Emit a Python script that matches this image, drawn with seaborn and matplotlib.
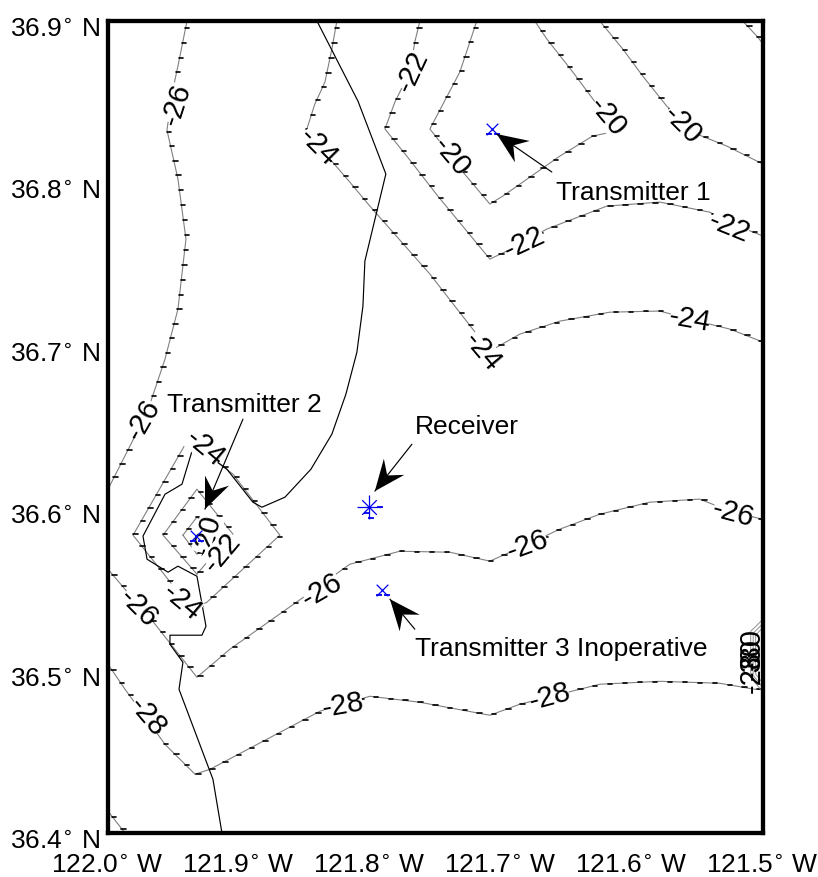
import matplotlib
matplotlib.use("Agg")
import matplotlib.pyplot as plt
import numpy as np
import seaborn as sns
from matplotlib.patches import Polygon
from matplotlib.path import Path
from matplotlib.patheffects import AbstractPathEffect, Normal
from matplotlib.transforms import Affine2D, IdentityTransform, ScaledTranslation

# Longitudes are degrees west, latitudes degrees north.
c26_west_lon = [121.9397, 121.9466, 121.9504, 121.9550, 121.9466, 121.9405, 121.9466, 121.9565, 121.9680, 121.9817, 121.9969, 122.0]
c26_west_lat = [36.9, 36.8723, 36.8581, 36.8329, 36.8027, 36.7657, 36.7226, 36.6918, 36.6641, 36.6407, 36.6166, 36.6117]
c24_north_lon = [121.8253, 121.8291, 121.8344, 121.8421, 121.8482, 121.8306, 121.8154, 121.8001, 121.7543, 121.7085, 121.6856, 121.6551, 121.6170, 121.5788, 121.5559, 121.5254, 121.5]
c24_north_lat = [36.9, 36.8828, 36.8624, 36.8489, 36.8335, 36.8150, 36.8008, 36.7860, 36.7442, 36.6967, 36.7072, 36.7152, 36.7207, 36.7214, 36.7164, 36.7103, 36.7023]
c22_north_lon = [121.7619, 121.7658, 121.7696, 121.7810, 121.7886, 121.7719, 121.7482, 121.7085, 121.6956, 121.6650, 121.6193, 121.5788, 121.5407, 121.5231, 121.5]
c22_north_lat = [36.9, 36.8871, 36.8686, 36.8501, 36.8335, 36.8168, 36.7922, 36.7534, 36.7583, 36.7719, 36.7860, 36.7885, 36.7823, 36.7750, 36.7676]
c20_north_lon = [121.7185, 121.7314, 121.7543, 121.7482, 121.7291, 121.7085, 121.6986, 121.6551, 121.6299, 121.6116, 121.6299, 121.6452, 121.6650, 121.6742]
c20_north_lat = [36.9, 36.8686, 36.8335, 36.8273, 36.8070, 36.7873, 36.7922, 36.8168, 36.8292, 36.8322, 36.8520, 36.8686, 36.8889, 36.9]
c20_east_lon = [121.6246, 121.6071, 121.5918, 121.5735, 121.5506, 121.5277, 121.5]
c20_east_lat = [36.9, 36.8828, 36.8661, 36.8476, 36.8304, 36.8230, 36.8119]
c18_corner_lon = [121.5155, 121.5040, 121.5]
c18_corner_lat = [36.9, 36.8901, 36.8858]
c24_peak_lon = [121.9374, 121.9809, 121.9512, 121.9359, 121.9245, 121.8688, 121.9046, 121.9298, 121.9374]
c24_peak_lat = [36.6444, 36.5834, 36.5532, 36.5378, 36.5421, 36.5834, 36.6210, 36.6364, 36.6444]
c22_peak_lon = [121.9321, 121.9580, 121.9321, 121.9046, 121.9168, 121.9245, 121.9321]
c22_peak_lat = [36.5594, 36.5834, 36.6117, 36.5840, 36.5748, 36.5667, 36.5594]
c20_peak_lon = [121.9428, 121.9321, 121.9130, 121.9321, 121.9428]
c20_peak_lat = [36.5834, 36.5945, 36.5834, 36.5717, 36.5834]
c26_south_lon = [122.0, 121.9870, 121.9641, 121.9321, 121.9069, 121.8497, 121.8154, 121.7772, 121.7391, 121.7085, 121.6795, 121.6551, 121.6246, 121.5865, 121.5483, 121.5231, 121.5]
c26_south_lat = [36.5624, 36.5501, 36.5286, 36.4959, 36.5132, 36.5458, 36.5655, 36.5735, 36.5729, 36.5674, 36.5778, 36.5871, 36.5963, 36.6037, 36.6056, 36.5975, 36.5932]
c28_lon = [122.0, 121.9870, 121.9565, 121.9336, 121.9222, 121.8382, 121.8001, 121.7619, 121.7085, 121.6856, 121.6246, 121.5788, 121.5330, 121.5063, 121.5]
c28_lat = [36.5039, 36.4885, 36.4546, 36.4362, 36.4392, 36.4750, 36.4842, 36.4805, 36.4725, 36.4793, 36.4916, 36.4934, 36.4922, 36.4885, 36.4885]
c28_corner_lon = [122.0, 121.9870]
c28_corner_lat = [36.4134, 36.4]
edge_outer_lon = [121.5, 121.5094, 121.5094, 121.5]
edge_outer_lat = [36.5316, 36.5242, 36.4959, 36.4867]
edge_middle_lon = [121.5, 121.5075, 121.5075, 121.5]
edge_middle_lat = [36.5290, 36.5230, 36.4970, 36.4895]
edge_inner_lon = [121.5, 121.5056, 121.5056, 121.5]
edge_inner_lat = [36.5267, 36.5218, 36.4978, 36.4922]

coast_lon = [121.8405, 121.8092, 121.7879, 121.8039, 121.8054, 121.8100, 121.8184, 121.8291, 121.8451, 121.8649, 121.8825, 121.8894, 121.9092, 121.9298, 121.9359, 121.9435, 121.9565, 121.9733, 121.9702, 121.9542, 121.9466, 121.9321, 121.9252, 121.9283, 121.9527, 121.9527, 121.9428, 121.9458, 121.9199, 121.9130]
coast_lat = [36.9, 36.8507, 36.8058, 36.7522, 36.7244, 36.6961, 36.6702, 36.6456, 36.6240, 36.6068, 36.6006, 36.6037, 36.6240, 36.6364, 36.6351, 36.6148, 36.6086, 36.5828, 36.5686, 36.5606, 36.5643, 36.5581, 36.5273, 36.5218, 36.5218, 36.5162, 36.5051, 36.4885, 36.4331, 36.4]

contour_lons = [c26_west_lon, c24_north_lon, c22_north_lon, c20_north_lon, c20_east_lon, c18_corner_lon, c24_peak_lon, c22_peak_lon, c20_peak_lon, c26_south_lon, c28_lon, c28_corner_lon]
contour_lats = [c26_west_lat, c24_north_lat, c22_north_lat, c20_north_lat, c20_east_lat, c18_corner_lat, c24_peak_lat, c22_peak_lat, c20_peak_lat, c26_south_lat, c28_lat, c28_corner_lat]
edge_lons = [edge_outer_lon, edge_middle_lon, edge_inner_lon]
edge_lats = [edge_outer_lat, edge_middle_lat, edge_inner_lat]

label_text = ["-26", "-26", "-24", "-22", "-20", "-20", "-20", "-22", "-22", "-24", "-24", "-24", "-20", "-22", "-24", "-26", "-26", "-26", "-26", "-28", "-28", "-28", "-28", "-30", "-30"]
label_lon = [121.9474, 121.9733, 121.8398, 121.7680, 121.7375, 121.6185, 121.5620, 121.6818, 121.5254, 121.7139, 121.5559, 121.9260, 121.9237, 121.9130, 121.9435, 121.9771, 121.8367, 121.6795, 121.5231, 121.9702, 121.8207, 121.6628, 121.5086, 121.5086, 121.5086]
label_lat = [36.8489, 36.6548, 36.8230, 36.8692, 36.8168, 36.8415, 36.8366, 36.7639, 36.7737, 36.6967, 36.7164, 36.6376, 36.5840, 36.5735, 36.5427, 36.5390, 36.5501, 36.5778, 36.5975, 36.4719, 36.4793, 36.4842, 36.5000, 36.5078, 36.5140]
label_angle = [72, 60, -45, 65, -50, -50, -45, 25, -22, -50, -10, -40, 75, 50, -40, -45, 30, 20, -15, -50, 10, 15, 90, 90, 90]

tx_names = ["Transmitter 1", "Transmitter 2", "Transmitter 3"]
tx_lon = [121.7070, 121.9329, 121.7909]
tx_lat = [36.8335, 36.5828, 36.5495]
rx_lon = [121.8009]
rx_lat = [36.6006]

note_text = ["Transmitter 1", "Transmitter 2", "Receiver", "Transmitter 3 Inoperative"]
note_lon = [121.6582, 121.9550, 121.7658, 121.7658]
note_lat = [36.7947, 36.6641, 36.6505, 36.5138]
arrow_tip_lon = [121.7032, 121.9260, 121.7963, 121.7848]
arrow_tip_lat = [36.8304, 36.5994, 36.6105, 36.5440]
arrow_tail_lon = [121.6612, 121.8970, 121.7680, 121.7658]
arrow_tail_lat = [36.8070, 36.6548, 36.6394, 36.5255]

lon_ticks = [122.0, 121.9, 121.8, 121.7, 121.6, 121.5]
lat_ticks = [36.9, 36.8, 36.7, 36.6, 36.5, 36.4]

W, H, DPI = 818, 878, 100
LEFT, RIGHT, TOP, BOTTOM = 108, 763, 22, 834


class HorizontalTicks(AbstractPathEffect):
    """Short horizontal dashes set at even steps along a contour line."""

    def __init__(self, spacing=15, width=4.5, shift=1.5, lw=1.2):
        super().__init__()
        self.spacing, self.width, self.shift, self.lw = spacing, width, shift, lw

    def draw_path(self, renderer, gc, tpath, affine, rgbFace=None):
        pts = affine.transform(tpath.vertices)
        seg = np.hypot(*np.diff(pts, axis=0).T)
        cum = np.concatenate([[0], np.cumsum(seg)])
        at = np.arange(self.spacing / 2, cum[-1], self.spacing)
        xs, ys = np.interp(at, cum, pts[:, 0]), np.interp(at, cum, pts[:, 1])
        verts, codes = [], []
        for x, y in zip(xs, ys):
            verts += [(x - self.width / 2 + self.shift, y), (x + self.width / 2 + self.shift, y)]
            codes += [Path.MOVETO, Path.LINETO]
        gc0 = renderer.new_gc()
        gc0.copy_properties(gc)
        gc0.set_foreground("black")
        gc0.set_linewidth(self.lw)
        gc0.set_dashes(0, None)
        renderer.draw_path(gc0, Path(verts, codes), Affine2D())
        gc0.restore()


sns.set_theme(style="white")
plt.rcParams["font.family"] = ["Liberation Sans", "DejaVu Sans"]
plt.rcParams["mathtext.fontset"] = "dejavusans"

fig = plt.figure(figsize=(W / DPI, H / DPI), dpi=DPI)
ax = fig.add_axes([LEFT / W, 1 - BOTTOM / H, (RIGHT - LEFT) / W, (BOTTOM - TOP) / H])
ax.set_xlim(lon_ticks[0], lon_ticks[-1])
ax.set_ylim(lat_ticks[-1], lat_ticks[0])

for lons, lats in zip(contour_lons, contour_lats):
    sns.lineplot(x=lons, y=lats, sort=False, estimator=None, color="#808080", linewidth=0.8, ax=ax, zorder=2)
    ax.lines[-1].set_path_effects([Normal(), HorizontalTicks()])

for lons, lats in zip(edge_lons, edge_lats):
    sns.lineplot(x=lons, y=lats, sort=False, estimator=None, color="#909090", linewidth=0.7, ax=ax, zorder=2)

sns.lineplot(x=coast_lon, y=coast_lat, sort=False, estimator=None, color="black", linewidth=0.85, ax=ax, zorder=2.5)

sns.scatterplot(x=tx_lon, y=tx_lat, marker="x", color="#0000ee", s=70, linewidth=0.9, ax=ax, zorder=5)
sns.scatterplot(x=rx_lon, y=rx_lat, marker="x", color="#0000ee", s=110, linewidth=0.9, ax=ax, zorder=5)
sns.scatterplot(x=rx_lon, y=rx_lat, marker="+", color="#0000ee", s=280, linewidth=0.9, ax=ax, zorder=5)

# small blue dashes beside each station symbol
for lons, lats, offsets in [(tx_lon, tx_lat, [(-3, -5), (5, -5)]), (rx_lon, rx_lat, [(11, 0), (-2, -6), (2, -11)])]:
    for dx, dy in offsets:
        ax.plot(lons, lats, ls="none", marker="_", ms=4, mew=1.3, color="#0000ee", zorder=5,
                transform=ax.transData + ScaledTranslation(dx / DPI, dy / DPI, fig.dpi_scale_trans))

for txt, lo, la, ang in zip(label_text, label_lon, label_lat, label_angle):
    box = None if ang == 90 else dict(boxstyle="square,pad=-0.05", fc="white", ec="none")
    ax.text(lo, la, txt, fontsize=21, rotation=ang, rotation_mode="anchor", ha="center", va="center", color="black",
            zorder=4, bbox=box)

for txt, lo, la in zip(note_text, note_lon, note_lat):
    ax.text(lo, la, txt, fontsize=19, ha="left", va="center", color="black", zorder=6)

fig.canvas.draw()
to_px = ax.transData.transform
for tip_lo, tip_la, tail_lo, tail_la in zip(arrow_tip_lon, arrow_tip_lat, arrow_tail_lon, arrow_tail_lat):
    tip = to_px((tip_lo, tip_la))
    tail = to_px((tail_lo, tail_la))
    u = (tail - tip) / np.hypot(*(tail - tip))
    n = np.array([-u[1], u[0]])
    head = [tip, tip + 31 * u + 13 * n, tip + 20 * u, tip + 31 * u - 13 * n]
    ax.add_patch(Polygon(head, closed=True, fc="black", ec="none", transform=IdentityTransform(), zorder=7))
    ax.annotate("", xy=(tip_lo, tip_la), xytext=(tail_lo, tail_la),
                arrowprops=dict(arrowstyle="-", color="black", lw=0.85, shrinkA=0, shrinkB=0), zorder=7)

ax.set_xticks(lon_ticks)
ax.set_xticklabels([f"{v:.1f}$^{{\\circ}}$ W" for v in lon_ticks], fontsize=19, color="black")
ax.set_yticks(lat_ticks)
ax.set_yticklabels([f"{v:.1f}$^{{\\circ}}$ N" for v in lat_ticks], fontsize=19, color="black")
ax.tick_params(axis="both", length=0, pad=0)
ax.set_xlabel("")
ax.set_ylabel("")
for lab in ax.get_xticklabels():
    lab.set_verticalalignment("baseline")
    lab.set_transform(lab.get_transform() + ScaledTranslation(-1 / DPI, -39 / DPI, fig.dpi_scale_trans))
for lab in ax.get_yticklabels():
    lab.set_verticalalignment("baseline")
    lab.set_transform(lab.get_transform() + ScaledTranslation(-8 / DPI, -15 / DPI, fig.dpi_scale_trans))

for s in ax.spines.values():
    s.set_visible(True)
    s.set_color("black")
    s.set_linewidth(3.1)
    s.set_zorder(8)

fig.savefig("out.png", dpi=DPI, facecolor="white")
